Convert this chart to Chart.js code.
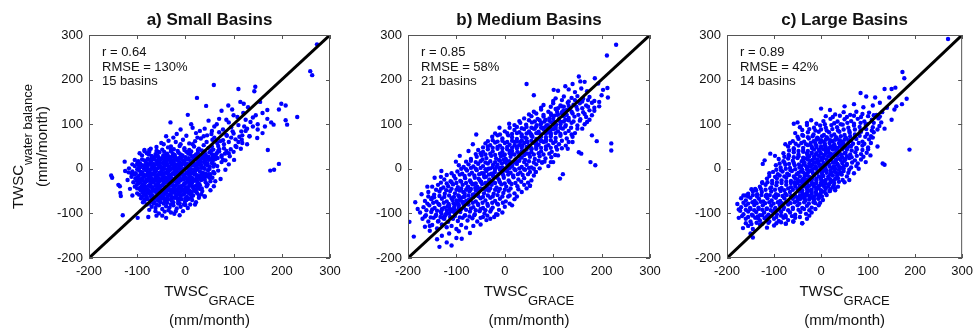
<!DOCTYPE html>
<html>
<head>
<meta charset="utf-8">
<script src="https://cdn.jsdelivr.net/npm/chart.js@4.4.1/dist/chart.umd.min.js"></script>
<style>
  body { margin: 0; background: #fff; }
  #wrap { position: relative; width: 979px; height: 329px; }
  #wrap canvas { position: absolute; left: 0; top: 0; }
</style>
</head>
<body>
<div id="wrap">
  <canvas id="small-chart" width="979" height="329"></canvas>
  <canvas id="medium-chart" width="979" height="329"></canvas>
  <canvas id="large-chart" width="979" height="329"></canvas>
</div>
<script>
// Axis ticks (same on x and y) and the 1:1 line ends
const tickValues = [-200, -100, 0, 100, 200, 300];
const diagonal = [-200, 300];

// Panel text
const panelTitles = ['a) Small Basins', 'b) Medium Basins', 'c) Large Basins'];
const rValues = ['0.64', '0.85', '0.89'];
const rmseValues = ['130%', '58%', '42%'];
const basinCounts = [15, 21, 14];

// [TWSC GRACE, TWSC water balance] in mm/month
const smallBasins = [
  [-77,-108],[-99,-110],[-130,-104],[-12,-104],[-23,-101],[-35,-93],[-43,-96],[-55,-100],[-62,-95],[-48,-105],[-30,-98],
  [-70,-85],[-62,-88],[-55,-82],[-48,-90],[-40,-84],[-33,-87],[-25,-82],[-18,-89],[-10,-85],[-3,-80],[5,-88],[-80,-80],[-66,-78],
  [-75,-78],[-60,-80],[-45,-78],[-30,-80],[-15,-78],[0,-81],
  [-65,-74],[-52,-75],[-38,-76],[-25,-75],[-12,-77],[2,-70],
  [-85,-72],[-78,-68],[-71,-74],[-64,-66],[-57,-71],[-50,-67],[-43,-73],[-36,-68],[-29,-71],[-22,-65],[-15,-72],[-8,-68],[-1,-74],[6,-67],[14,-70],[-92,-66],[22,-75],
  [-84,-68],[-70,-69],[-56,-66],[-42,-68],[-28,-66],[-14,-68],[0,-66],[12,-64],
  [-80,-63],[-72,-61],[-65,-65],[-51,-63],[-37,-62],[-24,-64],[-10,-62],[3,-63],[-58,-60],[-44,-66],[-30,-61],[-17,-66],
  [-96,-58],[-89,-53],[-82,-60],[-75,-55],[-68,-59],[-61,-52],[-54,-57],[-47,-61],[-40,-54],[-33,-58],[-26,-52],[-19,-60],[-12,-55],[-5,-58],[2,-51],[9,-56],[16,-60],[24,-54],[33,-57],[40,-62],
  [-86,-56],[-72,-57],[-58,-56],[-44,-57],[-30,-56],[-16,-57],[-2,-56],[12,-57],[28,-60],
  [-85,-50],[-71,-51],[-57,-49],[-43,-52],[-29,-50],[-15,-51],[-1,-49],[13,-52],[-78,-53],[-64,-50],[-50,-53],[-36,-49],[-22,-54],[-8,-50],[6,-54],[20,-50],
  [-90,-47],[-76,-48],[-62,-46],[-48,-48],[-34,-46],[-20,-48],[-6,-46],[8,-48],[22,-47],
  [-100,-44],[-93,-48],[-86,-42],[-79,-46],[-72,-40],[-65,-47],[-58,-43],[-51,-39],[-44,-46],[-37,-42],[-30,-48],[-23,-41],[-16,-45],[-9,-39],[-2,-47],[5,-42],[12,-38],[19,-46],[26,-41],[34,-44],[44,-39],
  [-95,-44],[-82,-45],[-68,-44],[-54,-45],[-40,-44],[-26,-45],[-12,-44],[2,-45],[16,-43],[30,-45],
  [-90,-38],[-76,-38],[-62,-37],[-48,-37],[-34,-39],[-20,-37],[-6,-38],[8,-36],[22,-38],[-83,-40],[-69,-41],[-55,-39],[-41,-41],[-27,-37],[-13,-40],[1,-41],[15,-39],[30,-37],
  [-98,-33],[-84,-32],[-70,-31],[-56,-32],[-42,-31],[-28,-32],[-14,-31],[0,-32],[14,-31],[28,-33],[46,-35],
  [-108,-30],[-101,-36],[-94,-31],[-87,-35],[-80,-28],[-73,-34],[-66,-30],[-59,-36],[-52,-27],[-45,-33],[-38,-29],[-31,-35],[-24,-28],[-17,-32],[-10,-26],[-3,-34],[4,-29],[11,-33],[18,-27],[25,-31],[33,-25],[42,-30],[52,-28],
  [-95,-25],[-81,-24],[-67,-25],[-53,-24],[-39,-23],[-25,-24],[-11,-25],[3,-23],[17,-25],[31,-23],[-88,-27],[-74,-26],[-60,-27],[-46,-25],[-32,-26],[-18,-27],[-4,-24],[10,-26],[24,-27],[40,-24],
  [-101,-27],[-75,-22],[-61,-21],[-47,-22],[-33,-21],[-19,-22],[-5,-21],[9,-22],[23,-21],[36,-20],
  [-100,-19],[-86,-18],[-72,-17],[-58,-19],[-44,-18],[-30,-19],[-16,-17],[-2,-18],[12,-19],[26,-20],[40,-18],
  [-112,-18],[-104,-22],[-97,-16],[-90,-21],[-83,-15],[-76,-19],[-69,-23],[-62,-17],[-55,-21],[-48,-14],[-41,-20],[-34,-16],[-27,-22],[-20,-15],[-13,-19],[-6,-13],[1,-20],[8,-16],[15,-21],[22,-14],[29,-18],[37,-12],[46,-17],[56,-20],
  [-93,-12],[-79,-13],[-65,-12],[-51,-13],[-37,-11],[-23,-12],[-9,-13],[5,-11],[19,-12],[33,-13],[-86,-14],[-72,-10],[-58,-14],[-44,-10],[-30,-13],[-16,-10],[-2,-14],[12,-10],[26,-15],[42,-11],
  [-106,-13],[-92,-7],[-78,-9],[-64,-8],[-50,-6],[-36,-7],[-22,-6],[-8,-8],[6,-7],[20,-6],[34,-8],[52,-12],
  [-110,-6],[-103,-10],[-96,-4],[-89,-9],[-82,-3],[-75,-7],[-68,-11],[-61,-5],[-54,-9],[-47,-2],[-40,-8],[-33,-4],[-26,-10],[-19,-3],[-12,-7],[-5,-1],[2,-8],[9,-4],[16,-9],[23,-2],[30,-6],[38,-10],[47,-3],[58,-7],[68,-4],
  [-86,0],[-72,-1],[-58,1],[-44,0],[-30,-1],[-16,1],[-2,0],[12,-1],[26,1],[40,0],[-79,1],[-65,-2],[-51,2],[-37,-2],[-23,2],[-9,-2],[5,2],[19,-2],[33,2],[50,0],
  [-100,-1],[-93,4],[-79,6],[-65,7],[-51,5],[-37,7],[-23,5],[-9,7],[5,5],[19,7],[33,6],[50,5],
  [-105,6],[-97,2],[-90,8],[-83,3],[-76,9],[-69,4],[-62,0],[-55,7],[-48,3],[-41,10],[-34,5],[-27,1],[-20,8],[-13,4],[-6,11],[1,6],[8,2],[15,9],[22,5],[29,12],[37,3],[45,8],[55,13],[66,6],
  [-98,9],[-84,8],[-70,9],[-56,10],[-42,8],[-28,9],[-14,10],[0,9],[14,8],[28,9],[42,10],[60,10],
  [-80,12],[-66,11],[-52,13],[-38,11],[-24,12],[-10,13],[4,11],[18,12],[32,10],[46,12],[-73,13],[-59,10],[-45,12],[-31,14],[-17,10],[-3,14],[11,10],[25,13],[39,14],
  [-94,12],[-85,19],[-71,18],[-57,19],[-43,18],[-29,19],[-15,18],[-1,19],[13,18],[27,19],[41,18],[55,20],
  [-98,17],[-90,21],[-82,15],[-74,20],[-66,24],[-59,16],[-52,21],[-45,14],[-38,19],[-31,23],[-24,16],[-17,20],[-10,26],[-3,18],[4,22],[11,15],[18,21],[25,25],[32,17],[40,22],[48,27],[57,18],[67,24],[78,20],
  [-78,22],[-64,21],[-50,22],[-36,21],[-22,22],[-8,22],[6,21],[20,22],[34,23],[48,20],[62,22],
  [-70,25],[-56,26],[-42,25],[-28,27],[-14,24],[0,26],[14,27],[28,24],[42,26],[56,25],[-63,27],[-49,24],[-35,28],[-21,26],[-7,28],[7,24],[21,27],[35,29],[49,23],[63,28],
  [-90,30],[-80,35],[-70,29],[-62,33],[-54,37],[-46,30],[-38,34],[-30,39],[-22,31],[-14,36],[-6,30],[2,38],[10,33],[18,29],[26,36],[34,41],[42,32],[50,37],[60,31],[70,39],[82,34],[92,28],
  [-76,32],[-58,30],[-42,30],[-26,34],[-10,32],[6,34],[22,32],[38,35],[55,33],[75,27],
  [-85,40],[-75,42],[-58,39],[-44,38],[-30,42],[-16,40],[-2,42],[12,39],[26,42],[40,39],[54,41],[68,40],
  [-72,45],[-60,49],[-48,43],[-36,48],[-24,44],[-12,51],[-2,46],[8,42],[18,50],[28,45],[38,53],[48,47],[58,43],[68,51],[80,46],[94,44],[106,49],
  [-50,58],[-35,63],[-20,60],[-5,65],[8,57],[20,62],[32,68],[44,60],[56,65],[66,58],[78,64],[90,60],[104,66],[118,58],
  [-40,73],[-18,78],[2,74],[22,80],[38,73],[54,78],[70,82],[86,74],[100,79],[116,84],[133,73],
  [-10,88],[15,92],[40,90],[60,95],[78,88],[95,93],[110,98],[128,90],[150,88],
  [-31,104],[12,100],[48,108],[70,112],[90,104],[108,116],[125,110],[146,120],[160,125],[170,112],[183,99],[178,104],[208,109],[211,99],[232,116],
  [5,121],[24,159],[43,141],[59,188],[110,179],[145,184],[143,174],[89,142],[97,133],[114,150],[121,146],[199,146],[208,142],[194,133],[170,132],[75,130],[130,138],[155,150],[273,279],[259,219],[263,210],
  [171,42],[194,11],[176,-4],[184,-2],[149,69],[133,73],[117,65],[118,75],[104,51],[101,20],[83,-2],[83,19],[73,-23],[62,-28],[59,-39],[52,-48],[40,-62],[6,-67],[90,35],[110,60],[125,85],[140,95],[160,80],[95,70],[80,55],
  [60,70],[72,62],[85,76],[98,84],[112,72],[122,95],[135,105],[150,100],[165,95],[140,115],[120,125],[100,120],[85,110],[65,100],[55,85],[45,75],[30,85],[25,70],[15,55],[55,50],
  [70,44],[85,40],[100,38],[115,45],[128,55],[75,15],[65,25],[90,10],[60,-10],[50,-20],[45,-35],[35,-50],[28,-65],[20,-80],[30,-45],[48,-12],[58,5],[65,35],[75,30],
  [-60,40],[-75,38],[-85,42],[-95,35],[-105,20],[-110,10],[-118,-8],[-105,-40],[-100,-55],[-90,-62],[-110,-60],[-88,-75],[-75,-92],[-60,-105],[-40,-110],[-20,-95],[-5,-95],[10,-80],[-45,55],[-25,70],[-10,55],[-30,50],
  [-154,-15],[-152,-20],[-139,-36],[-136,-39],[-135,-54],[-134,-61],[-126,16],[-117,1],[-112,-11],[-100,12],[-97,-26],[-93,-42],[-86,-48],[-120,-25],[-115,-45],[-125,-5]
];

const mediumBasins = [
  [-135,-175],[-110,-172],[-89,-157],[-120,-165],
  [-188,-152],[-155,-139],[-155,-128],[-130,-150],[-115,-145],[-100,-155],[-72,-144],[-140,-158],[-95,-140],
  [-165,-130],[-150,-126],[-140,-134],[-130,-125],[-120,-131],[-110,-128],[-100,-135],[-90,-126],[-80,-132],[-65,-128],[-50,-125],[-38,-115],[-15,-103],
  [-170,-112],[-158,-118],[-147,-110],[-137,-117],[-127,-111],[-117,-119],[-107,-112],[-97,-117],[-87,-110],[-77,-116],[-67,-111],[-57,-118],[-45,-108],[-30,-112],[-197,-119],
  [-165,-107],[-153,-109],[-143,-106],[-133,-108],[-123,-105],[-113,-108],[-103,-106],[-93,-109],[-83,-105],[-73,-107],[-63,-104],[-50,-110],[-36,-105],[-22,-108],
  [-175,-98],[-163,-104],[-152,-97],[-142,-103],[-132,-96],[-122,-102],[-112,-95],[-102,-101],[-92,-97],[-82,-104],[-72,-96],[-62,-102],[-52,-95],[-42,-100],[-30,-96],[-18,-102],[-5,-98],
  [-162,-93],[-150,-91],[-140,-94],[-130,-90],[-120,-93],[-110,-91],[-100,-94],[-90,-90],[-80,-92],[-70,-89],[-60,-93],[-50,-90],[-40,-93],[-28,-91],[-12,-92],
  [-168,-86],[-156,-82],[-145,-88],[-135,-81],[-125,-87],[-115,-83],[-105,-89],[-95,-82],[-85,-87],[-75,-80],[-65,-86],[-55,-81],[-45,-88],[-35,-83],[-25,-87],[-14,-80],[0,-85],[15,-82],
  [-160,-78],[-148,-76],[-137,-79],[-126,-76],[-116,-79],[-106,-77],[-96,-79],[-86,-76],[-76,-79],[-66,-76],[-56,-78],[-46,-76],[-36,-79],[-26,-76],[-16,-78],[-4,-76],[10,-78],
  [-165,-72],[-152,-68],[-141,-74],[-130,-67],[-120,-73],[-110,-66],[-100,-71],[-90,-65],[-80,-72],[-70,-67],[-60,-73],[-50,-66],[-40,-71],[-30,-65],[-20,-72],[-10,-67],[2,-73],[7,-62],[20,-68],
  [-158,-62],[-146,-64],[-135,-61],[-125,-63],[-115,-60],[-105,-63],[-95,-61],[-85,-63],[-75,-60],[-65,-63],[-55,-61],[-45,-63],[-35,-60],[-25,-62],[-15,-59],[-5,-62],[10,-60],[25,-62],
  [-172,-57],[-158,-52],[-146,-58],[-135,-51],[-124,-56],[-113,-50],[-103,-55],[-93,-49],[-83,-56],[-73,-51],[-63,-57],[-53,-50],[-43,-55],[-33,-49],[-23,-56],[-13,-50],[-3,-54],[8,-49],[20,-55],[35,-52],
  [-142,-47],[-132,-45],[-121,-48],[-110,-45],[-100,-47],[-90,-44],[-80,-47],[-70,-45],[-60,-48],[-50,-44],[-40,-47],[-30,-44],[-20,-47],[-10,-45],[0,-47],[12,-44],[28,-46],[45,-44],
  [-150,-40],[-138,-36],[-127,-42],[-117,-39],[-107,-35],[-97,-41],[-87,-36],[-77,-42],[-67,-35],[-57,-40],[-47,-34],[-37,-41],[-27,-36],[-17,-42],[-7,-35],[3,-40],[14,-34],[26,-39],[40,-36],[52,-38],
  [-132,-31],[-120,-33],[-110,-30],[-100,-32],[-90,-29],[-80,-32],[-70,-30],[-60,-33],[-50,-29],[-40,-32],[-30,-29],[-20,-32],[-10,-30],[0,-33],[10,-30],[22,-32],[34,-29],[48,-31],
  [-132,-18],[-125,-24],[-112,-28],[-102,-22],[-92,-27],[-82,-21],[-72,-26],[-62,-20],[-52,-25],[-42,-19],[-32,-24],[-22,-18],[-12,-25],[-2,-20],[8,-26],[18,-19],[28,-24],[40,-21],[55,-26],
  [-120,-14],[-105,-16],[-93,-13],[-83,-16],[-73,-13],[-63,-15],[-53,-12],[-43,-15],[-33,-13],[-23,-16],[-13,-12],[-3,-15],[7,-13],[17,-15],[27,-12],[37,-14],[48,-12],[60,-15],
  [-131,-5],[-110,-10],[-98,-6],[-88,-11],[-78,-4],[-68,-9],[-58,-3],[-48,-10],[-38,-5],[-28,-11],[-21,-7],[-10,-2],[5,-5],[12,-9],[22,-3],[32,-8],[42,-2],[52,-7],[64,-7],[114,-22],[120,-12],
  [-90,0],[-80,-1],[-70,2],[-60,0],[-50,2],[-40,-1],[-30,1],[-20,-1],[-10,2],[0,0],[10,2],[20,-1],[30,1],[40,-1],[50,2],[60,0],[72,1],
  [-101,16],[-93,29],[-95,8],[-85,4],[-75,10],[-65,5],[-55,11],[-45,6],[-35,12],[-25,4],[-15,9],[-5,3],[5,10],[15,5],[25,11],[35,4],[45,9],[55,3],[65,10],[77,14],[90,6],
  [-80,16],[-70,18],[-60,15],[-50,17],[-40,14],[-30,17],[-20,15],[-10,18],[0,15],[10,17],[20,14],[30,18],[40,15],[50,17],[60,14],[70,18],[82,16],[95,15],
  [-75,40],[-46,21],[-2,21],[-70,22],[-58,27],[-48,30],[-38,24],[-28,29],[-18,23],[-8,28],[2,22],[12,27],[22,21],[32,26],[42,20],[52,27],[62,22],[72,28],[84,23],[96,26],
  [-60,33],[-50,35],[-40,32],[-30,34],[-20,31],[-10,34],[0,32],[10,35],[20,32],[30,34],[40,31],[50,34],[60,32],[70,35],[80,32],[92,34],[104,31],
  [-66,55],[-55,42],[-45,38],[-35,44],[-25,39],[-15,45],[-5,38],[5,44],[15,40],[25,46],[35,39],[45,43],[55,37],[65,45],[75,39],[85,44],[97,38],[108,43],
  [-45,48],[-35,50],[-25,47],[-15,49],[-5,46],[5,49],[15,47],[25,50],[35,47],[45,49],[55,46],[65,49],[75,47],[85,50],[95,47],[106,49],[118,46],
  [-40,57],[-30,53],[-20,59],[-10,52],[0,58],[10,54],[20,60],[30,53],[40,58],[50,52],[60,59],[70,54],[80,60],[90,53],[100,58],[112,55],[126,52],
  [-35,62],[-25,64],[-15,61],[-5,63],[5,60],[15,63],[25,61],[35,64],[45,61],[55,63],[65,60],[75,63],[85,61],[95,64],[105,61],[118,63],[132,60],
  [-59,77],[-26,72],[-15,75],[7,75],[-5,68],[15,71],[25,67],[35,73],[45,68],[55,74],[65,67],[75,72],[85,66],[95,73],[105,69],[115,74],[128,68],[140,72],
  [-20,79],[-10,77],[5,80],[15,78],[25,80],[35,77],[45,79],[55,77],[65,80],[75,77],[85,79],[95,77],[105,80],[115,78],[125,80],[138,77],
  [-11,92],[9,101],[0,84],[20,87],[30,82],[40,89],[50,84],[60,90],[70,83],[80,88],[90,82],[100,89],[110,84],[120,90],[132,85],[145,80],
  [10,92],[25,94],[35,91],[45,94],[55,92],[65,95],[75,92],[85,94],[95,91],[105,94],[115,92],[125,95],[137,92],[150,90],
  [20,98],[32,103],[44,99],[56,104],[66,98],[76,103],[86,97],[96,104],[106,99],[116,105],[126,98],[138,103],[150,97],[165,100],
  [30,107],[50,109],[62,106],[72,109],[82,106],[92,108],[102,105],[112,108],[122,106],[132,109],[142,106],[155,108],[170,105],
  [40,113],[55,118],[68,112],[80,117],[92,113],[102,119],[112,112],[122,118],[132,114],[144,117],[156,111],[168,116],
  [50,122],[65,124],[80,121],[95,124],[108,121],[118,124],[128,121],[140,124],[152,121],[165,123],[180,120],
  [60,128],[75,133],[90,128],[105,134],[118,127],[128,132],[138,128],[150,133],[162,127],[175,131],
  [75,137],[95,139],[110,136],[122,139],[135,136],[148,139],[160,136],[172,139],[185,137],
  [80,143],[100,147],[115,142],[130,148],[142,144],[155,147],[168,142],[180,148],[195,150],
  [100,152],[118,154],[132,151],[145,154],[160,151],[172,154],[185,152],
  [105,158],[122,162],[138,159],[150,163],[162,157],[175,161],
  [110,175],[132,178],[145,172],[158,180],[170,174],[101,177],[60,165],[45,190],
  [230,278],[211,254],[153,207],[156,196],[186,203],[193,191],[212,181],[213,160],[203,177],[140,190],[125,185],[165,195],[200,165],
  [190,62],[220,57],[220,41],[177,15],[187,8],[153,37],[158,34],[77,14],[64,-7],[52,-38],[5,-5],[-21,-7],[160,90],[175,110],[185,130],[195,140],[140,60],[130,45],[110,30],[100,15],[180,75],
  [-180,-90],[-185,-75],[-160,-40],[-145,-20],[-150,-65],
  [-138,-118],[-126,-108],[-114,-90],[-104,-84],[-94,-70],[-83,-62],[-71,-47],[-61,-43],[-49,-29],[-39,-18],[-27,-12],[-17,4],[-6,12],[4,18],[15,33],[26,38],[36,52],[47,60],[57,72],[68,80],[79,92],[89,98],[100,112],[110,122],[121,130],[132,141],
  [-131,-100],[-120,-100],[-99,-78],[-88,-74],[-66,-58],[-56,-44],[-34,-30],[-24,-18],[-2,-4],[8,6],[30,28],[40,40],[62,58],[72,66],[94,86],[104,96],
  [-125,-112],[-115,-100],[-105,-97],[-95,-88],[-85,-80],[-75,-70],[-65,-62],[-55,-54],[-45,-45],[-35,-36],[-25,-28],[-15,-20],[-5,-10],[5,-2],[15,8],[25,16],[35,25],[45,34],[55,44],[65,52],[75,62],[85,71],[95,80],[105,90],[115,100],[125,110],
  [-130,-92],[-118,-84],[-108,-70],[-96,-60],[-86,-52],[-76,-40],[-64,-34],[-54,-22],[-44,-10],[-34,0],[-24,10],[-12,20],[-2,30],[10,40],[20,52],[32,60],[42,70],[52,80],[62,90],[74,100],[84,110],[96,120],[108,128],[118,140]
];

const largeBasins = [
  [-145,-154],[-150,-145],
  [-166,-133],[-155,-128],[-145,-135],[-130,-125],[-115,-132],[-100,-127],[-75,-123],[-59,-118],[-40,-122],
  [-160,-122],[-148,-124],[-137,-121],[-125,-123],[-112,-121],[-95,-122],[-85,-120],
  [-160,-112],[-150,-118],[-140,-110],[-130,-116],[-120,-111],[-110,-118],[-100,-112],[-90,-117],[-80,-110],[-70,-115],[-134,-111],[-55,-110],[-30,-112],
  [-168,-106],[-155,-108],[-145,-105],[-135,-107],[-125,-104],[-115,-107],[-105,-105],[-95,-108],[-85,-105],[-75,-108],[-62,-106],[-45,-108],[-25,-105],
  [-172,-94],[-165,-102],[-155,-96],[-147,-103],[-138,-97],[-130,-104],[-121,-98],[-112,-103],[-103,-96],[-94,-102],[-85,-97],[-76,-104],[-66,-98],[-55,-103],[-44,-97],[-32,-101],[-20,-98],
  [-175,-91],[-160,-92],[-150,-90],[-142,-93],[-133,-90],[-125,-92],[-116,-90],[-107,-93],[-98,-90],[-89,-92],[-80,-90],[-70,-93],[-60,-90],[-48,-92],[-36,-90],[-25,-93],[-12,-90],
  [-178,-79],[-170,-86],[-160,-82],[-151,-88],[-142,-81],[-133,-87],[-124,-82],[-115,-89],[-106,-83],[-97,-88],[-88,-81],[-79,-86],[-70,-80],[-60,-87],[-50,-82],[-40,-88],[-30,-83],[-20,-87],[-12,-77],[-5,-82],
  [-165,-76],[-155,-78],[-146,-75],[-137,-77],[-128,-74],[-119,-77],[-110,-75],[-101,-78],[-92,-75],[-83,-77],[-74,-74],[-65,-77],[-56,-75],[-46,-78],[-36,-75],[-26,-78],[-16,-75],[-2,-76],
  [-170,-66],[-160,-71],[-150,-65],[-141,-72],[-132,-67],[-123,-73],[-114,-66],[-105,-71],[-96,-65],[-87,-72],[-78,-66],[-69,-73],[-60,-67],[-51,-72],[-42,-65],[-33,-71],[-24,-66],[-15,-72],[-6,-67],[4,-70],
  [-45,-68],[-35,-67],[-25,-69],[-15,-68],[-5,-66],
  [-55,-62],[-45,-60],[-35,-63],[-25,-61],[-15,-62],[-5,-60],[-50,-64],[-30,-59],[-20,-64],[-10,-58],
  [-165,-60],[-155,-62],[-145,-59],[-136,-62],[-127,-59],[-118,-61],[-109,-59],[-100,-62],[-91,-59],[-82,-61],[-73,-59],[-64,-61],[2,-62],[12,-59],
  [-155,-56],[-145,-51],[-136,-57],[-126,-52],[-116,-58],[-106,-51],[-96,-57],[-86,-50],[-76,-56],[-66,-52],[-56,-58],[-47,-51],[-38,-57],[-29,-50],[-20,-56],[-11,-52],[-2,-58],[7,-51],[18,-50],[36,-40],
  [-40,-53],[-30,-54],[-20,-52],[-10,-54],[0,-53],[10,-55],
  [-60,-47],[-50,-46],[-40,-48],[-30,-45],[-20,-47],[-10,-46],[0,-48],[10,-45],[-25,-49],[-5,-44],
  [-148,-46],[-138,-48],[-128,-45],[-118,-47],[-108,-44],[-98,-47],[-88,-45],[-78,-48],[-70,-44],[20,-46],[30,-48],
  [-130,-40],[-118,-36],[-106,-42],[-95,-37],[-84,-43],[-74,-36],[-64,-41],[-55,-35],[-46,-42],[-37,-36],[-28,-41],[-19,-35],[-10,-42],[-1,-36],[8,-41],[17,-35],[27,-38],[30,-44],
  [-55,-40],[-45,-38],[-35,-39],[-25,-38],[-15,-40],[-5,-39],[5,-38],[15,-40],[25,-41],
  [-50,-32],[-40,-31],[-30,-33],[-20,-30],[-10,-32],[0,-31],[10,-33],[20,-30],[-35,-29],[-15,-34],[5,-29],
  [-125,-32],[-114,-30],[-104,-33],[-94,-30],[-84,-32],[-74,-29],[-64,-32],[-56,-30],[28,-32],[38,-29],
  [-50,-24],[-40,-25],[-30,-24],[-20,-25],[-10,-23],[0,-24],[10,-25],[20,-24],[30,-23],
  [-115,-22],[-104,-27],[-94,-21],[-84,-26],[-74,-20],[-64,-27],[-55,-21],[-46,-28],[-37,-22],[-28,-27],[-19,-21],[-10,-26],[-1,-20],[8,-27],[17,-22],[26,-27],[36,-21],[46,-25],
  [-45,-17],[-35,-16],[-25,-18],[-15,-15],[-5,-17],[5,-16],[15,-18],[25,-15],[-30,-14],[0,-19],[20,-13],
  [-110,-16],[-98,-18],[-88,-15],[-78,-17],[-68,-14],[-58,-17],[34,-16],[44,-13],[55,-17],
  [-48,-9],[-38,-8],[-28,-9],[-18,-8],[-8,-9],[2,-8],[12,-9],[22,-8],[32,-9],[42,-8],
  [-102,-7],[-92,-12],[-82,-6],[-72,-11],[-62,-5],[-52,-12],[-43,-6],[-34,-11],[-25,-5],[-16,-12],[-7,-6],[2,-11],[11,-5],[20,-12],[29,-6],[38,-11],[48,-5],[58,-9],
  [-40,-2],[-30,-1],[-20,-3],[-10,0],[0,-2],[10,-1],[20,-3],[30,0],[-15,1],[5,-4],[25,2],
  [-95,-2],[-85,-3],[-75,0],[-65,-3],[-55,-1],[38,-2],[48,1],[60,-2],
  [-42,5],[-32,6],[-22,5],[-12,6],[-2,5],[8,6],[18,5],[28,6],[38,5],[48,6],
  [-96,8],[-86,3],[-76,9],[-66,2],[-56,8],[-46,3],[-37,10],[-28,4],[-19,9],[-10,2],[-1,8],[8,3],[17,10],[26,4],[35,9],[44,2],[54,8],[64,3],[75,6],
  [-35,13],[-25,12],[-15,14],[-5,11],[5,13],[15,12],[25,14],[35,11],[-10,15],[10,10],[30,15],
  [-88,12],[-78,14],[-68,11],[-58,13],[-47,10],[45,13],[55,11],[66,14],[78,12],
  [-38,20],[-28,21],[-18,20],[-8,21],[2,20],[12,21],[22,20],[32,21],[42,20],[52,22],
  [-90,22],[-80,17],[-70,23],[-60,18],[-50,24],[-41,17],[-32,23],[-23,18],[-14,24],[-5,17],[4,23],[13,18],[22,24],[31,17],[40,22],[50,18],[60,24],[72,19],[85,21],
  [-25,28],[-15,27],[-5,29],[5,26],[15,28],[25,27],[35,29],[45,26],[0,25],[20,30],
  [-78,27],[-68,29],[-58,26],[-48,28],[-38,25],[55,28],[65,26],[76,29],[90,27],
  [-30,35],[-20,34],[-10,35],[0,34],[10,35],[20,34],[30,35],[40,34],[50,35],
  [-80,35],[-69,31],[-58,37],[-48,32],[-38,38],[-29,31],[-20,36],[-11,32],[-2,38],[7,31],[16,37],[25,32],[34,38],[43,31],[52,36],[62,32],[73,37],[85,33],[97,36],
  [-15,43],[-5,42],[5,44],[15,41],[25,43],[35,42],[45,44],[10,40],[30,45],
  [-68,41],[-58,43],[-48,40],[-38,42],[-28,40],[55,43],[65,41],[76,44],[88,42],[100,44],
  [-20,50],[-10,49],[0,50],[10,49],[20,50],[30,49],[40,50],[50,49],[60,50],
  [-76,55],[-70,50],[-58,46],[-48,52],[-38,47],[-28,53],[-19,46],[-10,52],[-1,47],[8,53],[17,46],[26,51],[35,47],[44,53],[54,46],[64,51],[75,47],[88,52],[100,48],
  [-66,58],[-54,56],[-42,58],[-32,55],[-22,58],[-12,56],[-2,59],[8,56],[18,58],[28,55],[38,58],[48,56],[58,59],[68,56],[80,58],[92,56],[106,58],
  [-60,62],[-48,67],[-36,61],[-26,68],[-16,62],[-6,67],[4,61],[14,68],[24,62],[34,67],[44,61],[54,68],[64,63],[75,67],[88,61],[102,66],
  [-10,65],[0,64],[10,65],[20,64],[30,65],[40,64],[50,65],[60,64],
  [-50,72],[-38,74],[-28,71],[-18,73],[-8,70],[2,73],[12,71],[22,74],[32,71],[42,73],[52,70],[62,73],[72,71],[82,74],[94,72],[106,73],
  [-55,80],[-40,76],[-28,82],[-16,77],[-5,83],[6,76],[17,82],[28,77],[39,83],[50,76],[61,81],[72,77],[85,83],[98,78],[112,82],
  [-40,87],[-25,89],[-12,86],[0,88],[12,86],[24,89],[36,86],[48,88],[60,85],[72,88],[84,86],[96,89],[108,86],[120,88],
  [-45,93],[-30,98],[-15,92],[-2,97],[10,92],[22,98],[34,93],[46,99],[58,92],[70,97],[82,94],[95,99],[110,93],[124,96],
  [-30,103],[-10,101],[8,100],[28,102],[42,100],[56,103],[70,101],[84,103],[98,100],[112,103],[128,104],
  [-58,101],[-50,104],[-21,109],[5,107],[20,112],[35,106],[50,111],[64,107],[78,112],[92,106],[108,110],[122,113],
  [10,118],[25,116],[40,119],[55,116],[70,119],[85,116],[100,118],[112,120],[125,117],
  [0,135],[19,132],[30,122],[48,127],[62,121],[75,128],[88,123],[102,126],[118,121],[130,127],
  [50,140],[70,145],[90,138],[110,142],[125,148],[140,137],
  [270,291],[173,217],[177,203],[150,179],[158,182],[135,179],[182,157],[172,145],[156,133],[84,170],[96,162],[115,160],[145,160],[160,140],
  [188,43],[131,12],[135,9],[120,50],[105,30],[95,15],[110,70],[135,90],[150,110],[80,0],[70,-10],[60,-25],[50,-30],[19,-50],[-40,-122],[-59,-118],[-75,-123],
  [-124,11],[-120,19],[-108,34],[-98,29],[-110,-10],[-125,-30],[-140,-45],[-160,-60],[-175,-110]
];

const FONT = "'Liberation Sans', Arial, Helvetica, sans-serif";
const TEXT_COLOR = '#111';

// Plot area edges in page pixels for the three panels
const panelLeft = [89, 408, 727];
const panelRight = [330, 650, 968];

// Box, inward ticks, title, stats and axis labels (with subscripts)
const panelDecor = {
    id: 'panelDecor',
    afterDraw(chart, args, opts) {
        const { ctx, chartArea: a, scales: { x, y } } = chart;
        ctx.save();

        ctx.strokeStyle = '#555';
        ctx.lineWidth = 1;
        ctx.strokeRect(a.left + 0.5, a.top + 0.5, a.width - 1, a.height - 1);

        ctx.beginPath();
        tickValues.forEach(v => {
            const px = Math.round(x.getPixelForValue(v)) + 0.5;
            const py = Math.round(y.getPixelForValue(v)) + 0.5;
            ctx.moveTo(px, a.bottom); ctx.lineTo(px, a.bottom - 4);
            ctx.moveTo(px, a.top); ctx.lineTo(px, a.top + 4);
            ctx.moveTo(a.left, py); ctx.lineTo(a.left + 4, py);
            ctx.moveTo(a.right, py); ctx.lineTo(a.right - 4, py);
        });
        ctx.stroke();

        const cx = (a.left + a.right) / 2;
        ctx.fillStyle = TEXT_COLOR;
        ctx.textBaseline = 'alphabetic';

        // title
        ctx.font = `bold 17px ${FONT}`;
        ctx.textAlign = 'center';
        ctx.fillText(opts.title, cx, 25);

        // stats in the upper left corner
        ctx.font = `13px ${FONT}`;
        ctx.textAlign = 'left';
        opts.stats.forEach((line, i) => {
            ctx.fillText(line, a.left + 13, a.top + 21 + i * 14.5);
        });

        // x label: TWSC_GRACE (mm/month)
        drawSubLabel(ctx, 'TWSC', 'GRACE', cx, 296);
        ctx.font = `15px ${FONT}`;
        ctx.textAlign = 'center';
        ctx.fillText('(mm/month)', cx, 325);

        // y label only on the first panel
        if (opts.yLabel) {
            ctx.save();
            ctx.translate(23, (a.top + a.bottom) / 2);
            ctx.rotate(-Math.PI / 2);
            drawSubLabel(ctx, 'TWSC', 'water balance', 0, 0);
            ctx.font = `15px ${FONT}`;
            ctx.textAlign = 'center';
            ctx.fillText('(mm/month)', 0, 24);
            ctx.restore();
        }
        ctx.restore();
    }
};

function drawSubLabel(ctx, main, sub, centerX, baseline) {
    ctx.font = `15px ${FONT}`;
    const wMain = ctx.measureText(main).width;
    ctx.font = `13px ${FONT}`;
    const wSub = ctx.measureText(sub).width;
    const start = centerX - (wMain + wSub) / 2;
    ctx.textAlign = 'left';
    ctx.font = `15px ${FONT}`;
    ctx.fillText(main, start, baseline);
    ctx.font = `13px ${FONT}`;
    ctx.fillText(sub, start + wMain, baseline + 9);
}

function axisOptions(isX) {
    return {
        type: 'linear',
        min: -200,
        max: 300,
        afterBuildTicks: scale => { scale.ticks = tickValues.map(v => ({ value: v })); },
        afterFit: scale => {
            if (isX) scale.height = 71;
            else scale.width = 40;
        },
        grid: { display: false, drawTicks: false },
        border: { display: false },
        ticks: {
            padding: 6,
            color: TEXT_COLOR,
            maxRotation: 0,
            font: { family: FONT, size: 13 },
            callback: v => String(v)
        }
    };
}

function makePanel(canvasId, index, points) {
    const canvas = document.getElementById(canvasId);
    return new Chart(canvas, {
        type: 'scatter',
        data: {
            datasets: [
                {
                    // 1:1 line, drawn on top of the points
                    data: diagonal.map(v => ({ x: v, y: v })),
                    showLine: true,
                    borderColor: '#000',
                    borderWidth: 3,
                    pointRadius: 0,
                    order: 0
                },
                {
                    data: points.map(p => ({ x: p[0], y: p[1] })),
                    backgroundColor: '#0000ff',
                    borderWidth: 0,
                    pointRadius: 2.2,
                    order: 1
                }
            ]
        },
        options: {
            responsive: false,
            animation: false,
            events: [],
            layout: {
                padding: {
                    left: panelLeft[index] - 40,
                    right: 979 - panelRight[index],
                    top: 35,
                    bottom: 0
                }
            },
            plugins: {
                legend: { display: false },
                tooltip: { enabled: false },
                panelDecor: {
                    title: panelTitles[index],
                    stats: [
                        `r = ${rValues[index]}`,
                        `RMSE = ${rmseValues[index]}`,
                        `${basinCounts[index]} basins`
                    ],
                    yLabel: index === 0
                }
            },
            scales: {
                x: axisOptions(true),
                y: axisOptions(false)
            }
        },
        plugins: [panelDecor]
    });
}

makePanel('small-chart', 0, smallBasins);
makePanel('medium-chart', 1, mediumBasins);
makePanel('large-chart', 2, largeBasins);
</script>
</body>
</html>
